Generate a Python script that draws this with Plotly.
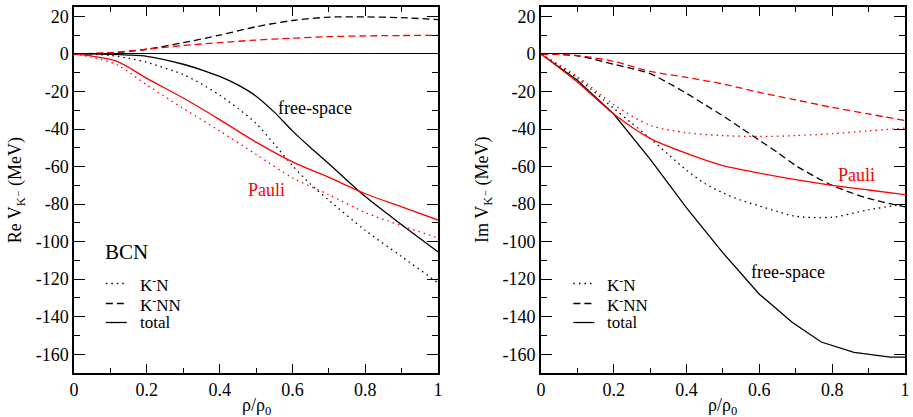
import plotly.graph_objects as go

# ---------------- data ----------------
# Left panel: Re V_K- (MeV)
re_x = [0, 0.05, 0.1, 0.15, 0.2, 0.3, 0.35, 0.4, 0.45, 0.5, 0.55, 0.6, 0.65, 0.7, 0.8, 0.9, 1.0]
re_free_total = [0, 0, -0.2, -0.6, -1.3, -5.5, -8.5, -12, -16.5, -22.5, -31, -41, -50, -58.5, -76, -91, -105.5]
re_free_kn = [0, -0.2, -0.8, -2.3, -4.5, -11, -16, -22, -29, -37, -48, -59.5, -69.5, -78, -94, -108, -122]

re_dx = [0, 0.1, 0.2, 0.3, 0.4, 0.5, 0.6, 0.7, 0.8, 0.9, 1.0]
re_free_knn = [0, 0.5, 2.5, 6, 10, 14.5, 17.8, 19.6, 19.7, 19.3, 18.3]
re_pauli_knn = [0, 0.7, 2.5, 4.5, 6, 7.4, 8.4, 9.2, 9.6, 9.8, 9.9]

re_px = [0, 0.05, 0.12, 0.2, 0.3, 0.4, 0.5, 0.6, 0.7, 0.8, 0.9, 1.0]
re_pauli_total = [0, -1.2, -4.1, -13, -23.5, -35, -47, -57.5, -65.8, -74.5, -81.5, -88.5]
re_pauli_kn = [0, -1.8, -5.9, -16.5, -29, -41, -53.5, -66, -75, -84.5, -91.5, -98]

# Right panel: Im V_K- (MeV)
im_x = [0, 0.1, 0.2, 0.3, 0.4, 0.5, 0.6, 0.7, 0.8, 0.9, 1.0]
im_pauli_total = [0, -15, -32, -45, -53, -59.5, -63.5, -67, -70, -72.5, -75]
im_pauli_kn = [0, -12, -27, -38, -42, -43.5, -44, -43.5, -42.5, -41, -39.5]
im_pauli_knn = [0, -0.8, -4, -9.3, -12.5, -16, -20.5, -24.5, -28.5, -32, -35.5]

im_kx = [0, 0.1, 0.2, 0.25, 0.3, 0.35, 0.4, 0.45, 0.5, 0.55, 0.6, 0.65, 0.7, 0.8, 0.9, 1.0]
im_free_kn = [0, -13, -29, -37, -45, -53.5, -62, -69, -74, -78, -81, -84, -86.5, -87, -83, -80]
im_free_knn = [0, -1, -5.5, -7.8, -10.5, -15.5, -21, -27, -33, -39.5, -46, -52.5, -59.5, -70, -77, -81.5]

im_fx = [0, 0.1, 0.2, 0.3, 0.4, 0.5, 0.6, 0.69, 0.77, 0.86, 0.96, 1.0]
im_free_total = [0, -14, -32, -56, -82, -106, -128, -143, -153.5, -159, -161.5, -161.5]

x_ticks = [0, 0.2, 0.4, 0.6, 0.8, 1.0]
x_ticktext = ["0", "0.2", "0.4", "0.6", "0.8", "1"]
y_ticks = [-160, -140, -120, -100, -80, -60, -40, -20, 0, 20]
y_ticktext = ["-160", "-140", "-120", "-100", "-80", "-60", "-40", "-20", "0", "20"]

legend_labels = ["K<sup>-</sup>N", "K<sup>-</sup>NN", "total"]

# ---------------- styling ----------------
FONT = "Liberation Serif, Times New Roman, Times, DejaVu Serif, serif"
W, H = 913, 417
ML, MR, MT, MB = 74, 3.7, 7, 44
PW = W - ML - MR
PH = H - MT - MB
LW = 1.3
DOT = "1.5px,4px"
DASH = "7px,4px"
RED = "#ff0000"
BLK = "#000000"


def px2paper(px, py):
    return (px - ML) / PW, (H - MB - py) / PH


fig = go.Figure()


def add(x, y, color, dash, xa, ya, shape="spline"):
    fig.add_trace(go.Scatter(x=x, y=y, mode="lines", xaxis=xa, yaxis=ya,
                             line=dict(color=color, width=LW, dash=dash,
                                       shape=shape, smoothing=0.8),
                             showlegend=False, hoverinfo="skip"))


# left
add(re_dx, re_free_knn, BLK, DASH, "x", "y")
add(re_dx, re_pauli_knn, RED, DASH, "x", "y")
add(re_x, re_free_kn, BLK, DOT, "x", "y")
add(re_px, re_pauli_kn, RED, DOT, "x", "y")
add(re_x, re_free_total, BLK, "solid", "x", "y")
add(re_px, re_pauli_total, RED, "solid", "x", "y")
# right
add(im_kx, im_free_knn, BLK, DASH, "x2", "y2")
add(im_x, im_pauli_knn, RED, DASH, "x2", "y2")
add(im_kx, im_free_kn, BLK, DOT, "x2", "y2")
add(im_x, im_pauli_kn, RED, DOT, "x2", "y2")
add(im_fx, im_free_total, BLK, "solid", "x2", "y2", shape="linear")
add(im_x, im_pauli_total, RED, "solid", "x2", "y2")

xcommon = dict(range=[0, 1], tickvals=x_ticks, ticktext=x_ticktext,
               ticks="inside", ticklen=9, tickwidth=1.2, tickcolor=BLK,
               minor=dict(dtick=0.1, ticks="inside", ticklen=5, tickwidth=1.2, tickcolor=BLK),
               showline=True, linecolor=BLK, linewidth=1.5, mirror="allticks",
               showgrid=False, zeroline=False,
               tickfont=dict(family=FONT, size=18, color=BLK))
ycommon = dict(range=[-170, 25], tickvals=y_ticks, ticktext=y_ticktext,
               ticks="inside", ticklen=11, tickwidth=1.2, tickcolor=BLK,
               minor=dict(dtick=10, ticks="inside", ticklen=6, tickwidth=1.2, tickcolor=BLK),
               showline=True, linecolor=BLK, linewidth=1.5, mirror="allticks",
               showgrid=False, zeroline=True, zerolinecolor=BLK, zerolinewidth=1.3,
               tickfont=dict(family=FONT, size=18, color=BLK))

left_dom = [0, (440 - ML) / PW]
right_dom = [(543.3 - ML) / PW, 1]

fig.update_layout(
    width=W, height=H,
    margin=dict(l=ML, r=MR, t=MT, b=MB, pad=0),
    paper_bgcolor="white", plot_bgcolor="white",
    showlegend=False,
    font=dict(family=FONT, size=18, color=BLK),
    xaxis=dict(domain=left_dom, anchor="y", **xcommon),
    yaxis=dict(domain=[0, 1], anchor="x", **ycommon),
    xaxis2=dict(domain=right_dom, anchor="y2", **xcommon),
    yaxis2=dict(domain=[0, 1], anchor="x2", **ycommon),
)

ann = []


def text(px, py, s, size=18, color=BLK, angle=0, xanchor="center"):
    x, y = px2paper(px, py)
    ann.append(dict(x=x, y=y, xref="paper", yref="paper", text=s, showarrow=False,
                    xanchor=xanchor, yanchor="middle", textangle=angle,
                    font=dict(family=FONT, size=size, color=color)))


# axis titles
text(16, 190, "Re V<sub>K⁻</sub> (MeV)", 18, angle=-90)
text(485, 190, "Im V<sub>K⁻</sub> (MeV)", 18, angle=-90)
text(257, 406, "ρ/ρ<sub>0</sub>", 18)
text(726, 406, "ρ/ρ<sub>0</sub>", 18)

# curve labels
text(316, 108, "free-space", 18)
text(792, 272, "free-space", 18)
text(267.5, 190, "Pauli", 18, RED)
text(861, 175, "Pauli", 18, RED)
text(126.5, 252, "BCN", 21)

# legends (sample lines + text)
rows = [283.5, 303.5, 322.5]
dashes = [DOT, DASH, "solid"]
shapes = []
for (lx0, lx1, tx) in [(106, 127, 138), (576, 597, 607.7)]:
    for ry, d, lab in zip(rows, dashes, legend_labels):
        x0, y0 = px2paper(lx0, ry)
        x1, _ = px2paper(lx1, ry)
        shapes.append(dict(type="line", xref="paper", yref="paper",
                           x0=x0, x1=x1, y0=y0, y1=y0,
                           line=dict(color=BLK, width=LW, dash=d)))
        text(tx, ry, lab, 17, xanchor="left")

fig.update_layout(annotations=ann, shapes=shapes)

fig.write_html("out.html")
